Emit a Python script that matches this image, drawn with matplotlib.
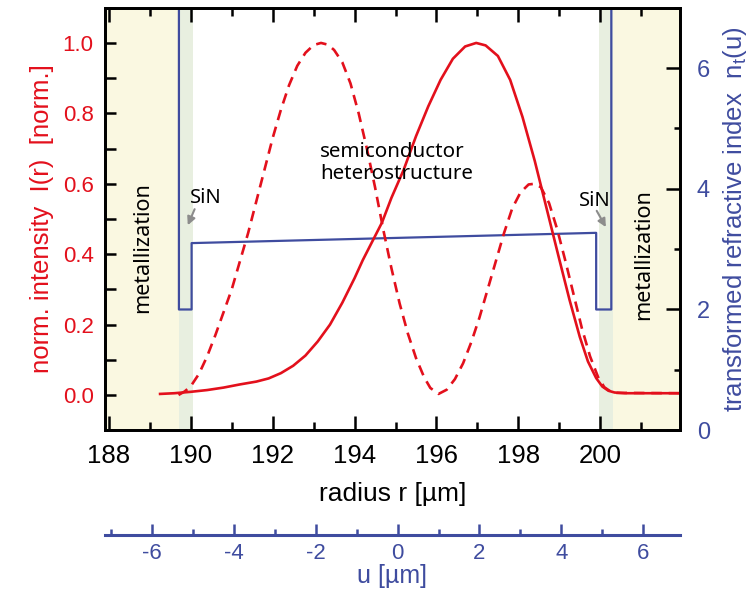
import matplotlib
matplotlib.use("Agg")
import matplotlib.pyplot as plt
from matplotlib.ticker import MultipleLocator, FormatStrFormatter

# 数据
# 实线：基模强度
r_solid = [189.25, 189.6, 190.0, 190.4, 190.8, 191.2, 191.6, 191.9, 192.2, 192.5,
           192.8, 193.1, 193.4, 193.7, 194.0, 194.2, 194.45, 194.67, 194.9, 195.2,
           195.5, 195.8, 196.1, 196.4, 196.7, 196.97, 197.2, 197.5, 197.8, 198.1,
           198.4, 198.7, 199.0, 199.25, 199.5, 199.7, 199.9, 200.05, 200.2, 200.35,
           200.6, 201.0, 201.95]
i_solid = [0.003, 0.005, 0.009, 0.014, 0.021, 0.030, 0.038, 0.047, 0.062, 0.083,
           0.112, 0.152, 0.200, 0.262, 0.332, 0.383, 0.44, 0.49, 0.56, 0.64,
           0.735, 0.82, 0.895, 0.955, 0.99, 1.0, 0.993, 0.963, 0.895, 0.79,
           0.665, 0.525, 0.385, 0.27, 0.165, 0.095, 0.048, 0.024, 0.012, 0.007,
           0.005, 0.005, 0.005]

# 虚线：二阶模强度
r_dash = [189.7, 189.85, 190.0, 190.2, 190.4, 190.6, 190.8, 191.0, 191.2, 191.4,
          191.6, 191.8, 192.0, 192.2, 192.4, 192.6, 192.8, 193.0, 193.18, 193.35,
          193.5, 193.7, 193.9, 194.1, 194.3, 194.5, 194.7, 194.9, 195.1, 195.3,
          195.5, 195.7, 195.85, 196.05, 196.25, 196.45, 196.65, 196.85, 197.05, 197.25,
          197.45, 197.65, 197.85, 198.05, 198.25, 198.4, 198.55, 198.75, 198.95, 199.15,
          199.35, 199.55, 199.75, 199.95, 200.1, 200.25, 200.4, 201.95]
i_dash = [0.0, 0.01, 0.025, 0.06, 0.11, 0.17, 0.235, 0.30, 0.38, 0.46,
          0.55, 0.64, 0.73, 0.81, 0.88, 0.935, 0.972, 0.994, 1.0, 0.995,
          0.98, 0.945, 0.885, 0.80, 0.70, 0.59, 0.47, 0.36, 0.26, 0.175,
          0.105, 0.05, 0.02, 0.003, 0.015, 0.045, 0.09, 0.15, 0.22, 0.30,
          0.38, 0.46, 0.53, 0.575, 0.598, 0.60, 0.59, 0.545, 0.47, 0.38,
          0.285, 0.19, 0.11, 0.05, 0.022, 0.01, 0.006, 0.005]

# 折射率 n_t（阶梯）
r_index = [189.71, 189.71, 190.02, 190.02, 199.9, 199.9, 200.27, 200.27]
n_index = [7.5, 2.0, 2.0, 3.10, 3.27, 2.0, 2.0, 7.5]

metal_left = (187.9, 189.72)
sin_left = (189.72, 190.05)
sin_right = (199.98, 200.3)
metal_right = (200.3, 202.0)
U_OFFSET = 195.05

RED = "#e3101c"
BLUE = "#3f4c9f"
YELLOW = "#faf8e1"
GREEN = "#e8efe0"

plt.rcParams.update({
    "font.family": ["Liberation Sans", "DejaVu Sans"],
    "font.size": 16,
    "mathtext.default": "regular",
    "axes.unicode_minus": False,
})
note_font = ["Noto Sans", "DejaVu Sans"]

fig = plt.figure(figsize=(7.54, 5.95), dpi=100)
ax = fig.add_axes([0.139, 0.277, 0.763, 0.710])
axn = ax.twinx()
ax.set_zorder(axn.get_zorder() + 1)
ax.patch.set_visible(False)

# 背景区域
for span, col in [(metal_left, YELLOW), (sin_left, GREEN), (sin_right, GREEN), (metal_right, YELLOW)]:
    axn.axvspan(span[0], span[1], color=col, lw=0, zorder=0)

axn.plot(r_index, n_index, color=BLUE, lw=1.6, zorder=2)
axn.set_ylim(0, 7.0)

# 强度曲线
ax.plot(r_solid, i_solid, color=RED, lw=1.9)
ax.plot(r_dash, i_dash, color=RED, lw=1.9, dashes=(4, 2.6))
ax.set_ylim(-0.1, 1.1)
ax.set_xlim(187.9, 201.95)

ax.yaxis.set_major_locator(MultipleLocator(0.2))
ax.yaxis.set_minor_locator(MultipleLocator(0.1))
ax.yaxis.set_major_formatter(FormatStrFormatter("%.1f"))
ax.xaxis.set_major_locator(MultipleLocator(2))
ax.xaxis.set_minor_locator(MultipleLocator(1))
axn.yaxis.set_major_locator(MultipleLocator(2))
axn.yaxis.set_minor_locator(MultipleLocator(1))

ax.tick_params(axis="y", which="both", direction="in", labelcolor=RED, labelsize=16,
               left=True, right=False, width=1.8, length=8, pad=8)
ax.tick_params(axis="x", which="both", direction="in", top=True, bottom=True,
               width=1.8, labelsize=18.5, pad=10)
ax.tick_params(axis="x", which="major", length=10)
ax.tick_params(axis="x", which="minor", length=6)
axn.tick_params(axis="y", which="both", direction="in", labelcolor=BLUE, labelsize=17,
                width=1.8, pad=12)
axn.tick_params(axis="y", which="major", length=10)
axn.tick_params(axis="y", which="minor", length=4)

for a in (ax, axn):
    for s in a.spines.values():
        s.set_linewidth(2.0)
        s.set_color("black")

ax.set_ylabel("norm. intensity  I(r)  [norm.]", color=RED, fontsize=18.5, labelpad=6)
axn.set_ylabel("transformed refractive index  n$_t$(u)", color=BLUE, fontsize=18.5, labelpad=8)
ax.set_xlabel("radius r [µm]", fontsize=19, labelpad=10)

# 标注
ax.text(188.83, 0.42, "metallization", rotation=90, ha="center", va="center",
        fontsize=15.5, family=note_font)
ax.text(201.05, 0.40, "metallization", rotation=90, ha="center", va="center",
        fontsize=15.5, family=note_font)
ax.text(193.16, 0.66, "semiconductor\nheterostructure", ha="left", va="center",
        fontsize=14.8, family=note_font, linespacing=1.15)
ax.text(189.98, 0.56, "SiN", ha="left", va="center", fontsize=14.5, family=note_font)
ax.text(199.48, 0.55, "SiN", ha="left", va="center", fontsize=14.5, family=note_font)
arrow = dict(arrowstyle="-|>", color="#8c8c8c", lw=1.5, mutation_scale=12)
ax.annotate("", xy=(189.9, 0.475), xytext=(190.12, 0.535), arrowprops=arrow)
ax.annotate("", xy=(200.17, 0.47), xytext=(199.88, 0.53), arrowprops=arrow)

# 第二 x 轴 u
sec = ax.secondary_xaxis(-0.248, functions=(lambda r: r - U_OFFSET, lambda u: u + U_OFFSET))
sec.xaxis.set_major_locator(MultipleLocator(2))
sec.xaxis.set_minor_locator(MultipleLocator(1))
sec.tick_params(axis="x", which="both", direction="in", bottom=True, top=False,
                labelbottom=True, labeltop=False, colors=BLUE, labelsize=16,
                width=1.8, pad=6)
sec.tick_params(axis="x", which="major", length=8)
sec.tick_params(axis="x", which="minor", length=4)
for s in sec.spines.values():
    s.set_color(BLUE)
    s.set_linewidth(2.2)
sec.xaxis.set_label_position("bottom")
sec.set_xlabel("u [µm]", color=BLUE, fontsize=18, labelpad=0)

fig.savefig("out.png", dpi=100)
